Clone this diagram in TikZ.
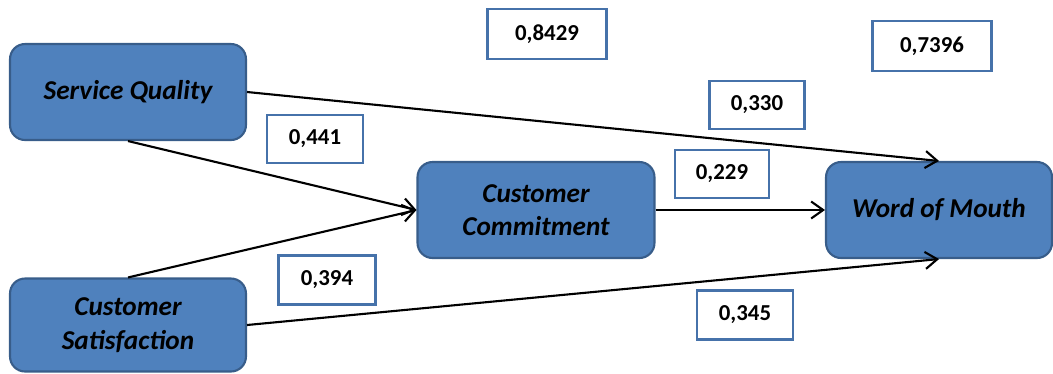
\documentclass[tikz,border=0pt]{standalone}
\usepackage{fontspec}
\setmainfont{Carlito}
\usetikzlibrary{arrows.meta}
\definecolor{boxblue}{HTML}{4F81BD}
\definecolor{boxedge}{HTML}{385D8A}
\definecolor{coefedge}{HTML}{4672AA}
\tikzset{
	construct/.style={draw=boxedge, line width=1.2pt, fill=boxblue, rounded corners=0.3cm, align=center, inner sep=0pt, font=\fontsize{15.5}{19}\selectfont\bfseries\itshape},
	coef/.style={draw=coefedge, line width=1.6pt, fill=white, inner sep=0pt, font=\fontsize{13}{15}\selectfont\bfseries},
	path/.style={line width=1.2pt, -{Straight Barb[length=2.4mm,width=3.4mm,line width=1.2pt]}}
}
\begin{document}
\begin{tikzpicture}[x=0.02cm,y=-0.02cm]
	\useasboundingbox (0,0) rectangle (1053,373);
	\node[construct, minimum width=4.72cm, minimum height=1.92cm] (sq) at (128,92) {Service Quality};
	\node[construct, minimum width=4.72cm, minimum height=1.86cm] (cs) at (128,325) {Customer\\Satisfaction};
	\node[construct, minimum width=4.74cm, minimum height=1.92cm] (cc) at (536,210) {Customer\\Commitment};
	\node[construct, minimum width=4.52cm, minimum height=1.92cm] (wom) at (939,210) {Word of Mouth};
	\node[coef, minimum width=2.38cm, minimum height=1.0cm] (r1) at (547,34) {0,8429};
	\node[coef, minimum width=2.38cm, minimum height=1.0cm] (r2) at (932,46) {0,7396};
	\node[coef, minimum width=1.9cm, minimum height=0.96cm] (p1) at (757,105) {0,330};
	\node[coef, minimum width=1.92cm, minimum height=0.96cm] (p2) at (315,139) {0,441};
	\node[coef, minimum width=1.88cm, minimum height=0.96cm] (p3) at (722,174) {0,229};
	\node[coef, minimum width=1.94cm, minimum height=0.98cm] (p4) at (327,280) {0,394};
	\node[coef, minimum width=1.92cm, minimum height=0.98cm] (p5) at (745,315) {0,345};
	\draw[path] (sq.east) -- (wom.north);
	\draw[path] (sq.south) -- (cc.west);
	\draw[path] (cs.north) -- (cc.west);
	\draw[path] (cc.east) -- (wom.west);
	\draw[path] (cs.east) -- (wom.south);
\end{tikzpicture}
\end{document}
